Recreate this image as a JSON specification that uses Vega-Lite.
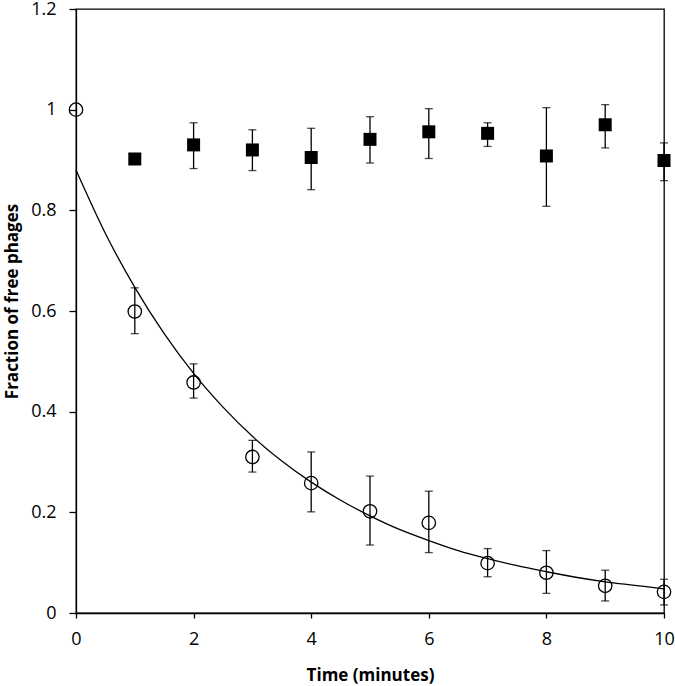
{
  "$schema": "https://vega.github.io/schema/vega-lite/v6.json",
  "autosize": {"type": "none"},
  "width": 588,
  "height": 604,
  "padding": {"left": 76, "top": 9, "right": 11, "bottom": 73},
  "background": "white",
  "config": {
    "view": {"stroke": "black", "strokeWidth": 1.3},
    "font": "Open Sans",
    "axis": {
      "grid": false,
      "domainColor": "black",
      "domainWidth": 1.3,
      "tickColor": "black",
      "tickWidth": 1.3,
      "labelFont": "Open Sans",
      "labelFontSize": 18,
      "labelColor": "black",
      "labelFlush": false,
      "titleFont": "Open Sans",
      "titleFontSize": 17,
      "titleFontWeight": "bold",
      "titleColor": "black"
    }
  },
  "datasets": {
    "points": [
      {"series": "free", "time": 0, "value": 1.0, "lo": null, "hi": null},
      {"series": "free", "time": 1, "value": 0.599, "lo": 0.555, "hi": 0.646},
      {"series": "free", "time": 2, "value": 0.458, "lo": 0.427, "hi": 0.495},
      {"series": "free", "time": 3, "value": 0.31, "lo": 0.28, "hi": 0.343},
      {"series": "free", "time": 4, "value": 0.258, "lo": 0.201, "hi": 0.32},
      {"series": "free", "time": 5, "value": 0.202, "lo": 0.135, "hi": 0.272},
      {"series": "free", "time": 6, "value": 0.179, "lo": 0.12, "hi": 0.242},
      {"series": "free", "time": 7, "value": 0.099, "lo": 0.072, "hi": 0.128},
      {"series": "free", "time": 8, "value": 0.08, "lo": 0.039, "hi": 0.124},
      {"series": "free", "time": 9, "value": 0.054, "lo": 0.024, "hi": 0.085},
      {"series": "free", "time": 10, "value": 0.042, "lo": 0.016, "hi": 0.067},
      {"series": "control", "time": 1, "value": 0.902, "lo": null, "hi": null},
      {"series": "control", "time": 2, "value": 0.93, "lo": 0.883, "hi": 0.974},
      {"series": "control", "time": 3, "value": 0.92, "lo": 0.879, "hi": 0.96},
      {"series": "control", "time": 4, "value": 0.905, "lo": 0.841, "hi": 0.963},
      {"series": "control", "time": 5, "value": 0.941, "lo": 0.894, "hi": 0.986},
      {"series": "control", "time": 6, "value": 0.956, "lo": 0.903, "hi": 1.002},
      {"series": "control", "time": 7, "value": 0.953, "lo": 0.927, "hi": 0.974},
      {"series": "control", "time": 8, "value": 0.908, "lo": 0.808, "hi": 1.004},
      {"series": "control", "time": 9, "value": 0.97, "lo": 0.924, "hi": 1.01},
      {"series": "control", "time": 10, "value": 0.899, "lo": 0.859, "hi": 0.934}
    ],
    "fit": [
      {"time": 0, "value": 0.88},
      {"time": 0.5, "value": 0.754},
      {"time": 1, "value": 0.647},
      {"time": 1.5, "value": 0.555},
      {"time": 2, "value": 0.476},
      {"time": 2.5, "value": 0.409},
      {"time": 3, "value": 0.351},
      {"time": 3.5, "value": 0.302},
      {"time": 4, "value": 0.26},
      {"time": 4.5, "value": 0.224},
      {"time": 5, "value": 0.193},
      {"time": 5.5, "value": 0.166},
      {"time": 6, "value": 0.144},
      {"time": 6.5, "value": 0.124},
      {"time": 7, "value": 0.108},
      {"time": 7.5, "value": 0.094},
      {"time": 8, "value": 0.082},
      {"time": 8.5, "value": 0.071},
      {"time": 9, "value": 0.062},
      {"time": 9.5, "value": 0.055},
      {"time": 10, "value": 0.048}
    ]
  },
  "layer": [
    {
      "data": {"name": "fit"},
      "mark": {"type": "line", "color": "black", "strokeWidth": 1.3, "interpolate": "monotone", "clip": false},
      "encoding": {
        "x": {
          "field": "time", "type": "quantitative",
          "scale": {"domain": [0, 10], "nice": false, "zero": false},
          "axis": {"values": [0, 2, 4, 6, 8, 10], "format": "~g", "tickSize": 5, "labelPadding": 12, "title": "Time (minutes)", "titlePadding": 19}
        },
        "y": {
          "field": "value", "type": "quantitative",
          "scale": {"domain": [0, 1.2], "nice": false},
          "axis": {"values": [0, 0.2, 0.4, 0.6, 0.8, 1, 1.2], "format": "~g", "tickSize": 7, "labelPadding": 13, "title": "Fraction of free phages", "titlePadding": 9, "titleY": 292}
        }
      }
    },
    {
      "data": {"name": "points"},
      "transform": [{"filter": "datum.lo != null"}],
      "mark": {"type": "rule", "color": "black", "strokeWidth": 1.3},
      "encoding": {
        "x": {"field": "time", "type": "quantitative"},
        "y": {"field": "lo", "type": "quantitative"},
        "y2": {"field": "hi"}
      }
    },
    {
      "data": {"name": "points"},
      "transform": [{"filter": "datum.lo != null"}],
      "mark": {"type": "tick", "color": "black", "orient": "horizontal", "size": 8, "thickness": 1.3},
      "encoding": {
        "x": {"field": "time", "type": "quantitative"},
        "y": {"field": "lo", "type": "quantitative"}
      }
    },
    {
      "data": {"name": "points"},
      "transform": [{"filter": "datum.lo != null"}],
      "mark": {"type": "tick", "color": "black", "orient": "horizontal", "size": 8, "thickness": 1.3},
      "encoding": {
        "x": {"field": "time", "type": "quantitative"},
        "y": {"field": "hi", "type": "quantitative"}
      }
    },
    {
      "data": {"name": "points"},
      "transform": [{"filter": "datum.series == 'free'"}],
      "mark": {"type": "point", "shape": "circle", "filled": false, "color": "black", "strokeWidth": 1.3, "size": 180, "opacity": 1},
      "encoding": {
        "x": {"field": "time", "type": "quantitative"},
        "y": {"field": "value", "type": "quantitative"}
      }
    },
    {
      "data": {"name": "points"},
      "transform": [{"filter": "datum.series == 'control'"}],
      "mark": {"type": "point", "shape": "square", "filled": true, "color": "black", "size": 169, "opacity": 1},
      "encoding": {
        "x": {"field": "time", "type": "quantitative"},
        "y": {"field": "value", "type": "quantitative"}
      }
    }
  ]
}
